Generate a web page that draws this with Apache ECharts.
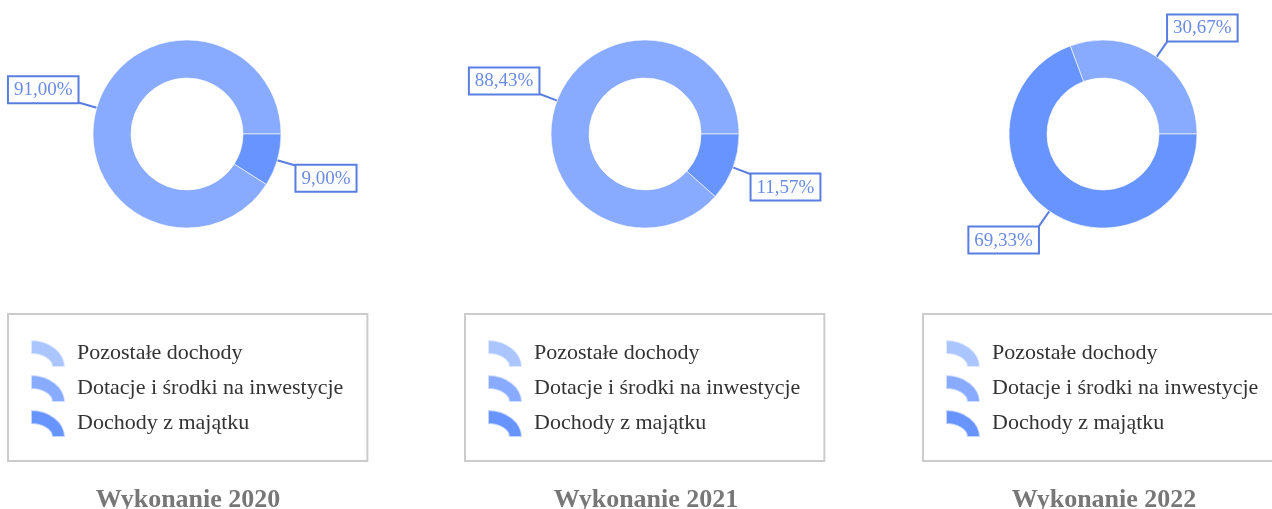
<!DOCTYPE html>
<html>
<head>
<meta charset="utf-8">
<script src="https://cdn.jsdelivr.net/npm/echarts@6/dist/echarts.min.js"></script>
<style>
html,body{margin:0;padding:0;background:#fff;}
#chart{width:1272px;height:509px;}
</style>
</head>
<body>
<div id="chart"></div>
<script>
// ---- data ----
const categories = ['Pozostałe dochody', 'Dotacje i środki na inwestycje', 'Dochody z majątku'];
const years = ['Wykonanie 2020', 'Wykonanie 2021', 'Wykonanie 2022'];
const values2020 = [0, 91.00, 9.00];
const values2021 = [0, 88.43, 11.57];
const values2022 = [0, 30.67, 69.33];
const seriesValues = [values2020, values2021, values2022];

// ---- layout / style ----
const palette = ['#abc5ff', '#88aaff', '#6894ff'];
const panelX = [187, 645, 1103];
const legendX = [8, 465, 923];
const serif = "'Liberation Serif', 'Times New Roman', serif";
const iconPath = 'path://M0,0 A34,27 0 0 1 34,27 L21,27 A21,13 0 0 0 0,14 Z';

const chart = echarts.init(document.getElementById('chart'), null, {renderer: 'canvas'});

const series = seriesValues.map((vals, i) => ({
  type: 'pie',
  center: [panelX[i], 134],
  radius: [56, 94],
  startAngle: 0,
  clockwise: false,
  minShowLabelAngle: 1,
  avoidLabelOverlap: false,
  animation: false,
  itemStyle: {borderColor: 'rgba(255,255,255,0.6)', borderWidth: 1},
  emphasis: {disabled: true},
  label: {
    show: true,
    position: 'outside',
    distanceToLabelLine: 0,
    formatter: p => p.value.toFixed(2).replace('.', ',') + '%',
    fontFamily: serif,
    fontSize: 19,
    lineHeight: 20,
    color: '#6a8be4',
    backgroundColor: '#fff',
    borderColor: '#5a7ee0',
    borderWidth: 2,
    padding: [3, 5, 2, 5]
  },
  labelLine: {show: true, length: 20, length2: 0, smooth: false,
    lineStyle: {color: '#5a7ee0', width: 2}},
  labelLayout: function (p) {
    const pts = p.labelLinePoints;
    if (!pts) return {};
    const up = pts[2][1] < pts[0][1];
    return {
      x: pts[2][0],
      y: pts[2][1],
      align: p.align,
      verticalAlign: up ? 'bottom' : 'top',
      labelLinePoints: pts
    };
  },
  data: categories.map((c, k) => ({name: c, value: vals[k]}))
}));

const legends = legendX.map(x => ({
  orient: 'vertical',
  left: x,
  top: 314,
  data: categories,
  icon: iconPath,
  itemWidth: 34,
  itemHeight: 27,
  itemGap: 6,
  symbolKeepAspect: false,
  selectedMode: false,
  padding: [25, 24, 23, 22],
  borderColor: '#cccccc',
  borderWidth: 2,
  textStyle: {fontFamily: serif, fontSize: 22, color: '#333333', padding: [0, 0, 0, 7]}
}));

const titles = years.map((t, i) => ({
  text: t,
  left: panelX[i] + 1,
  top: 487,
  textAlign: 'center',
  padding: 0,
  textStyle: {fontFamily: serif, fontSize: 26, fontWeight: 'bold', color: '#777777'}
}));

chart.setOption({
  color: palette,
  backgroundColor: '#ffffff',
  title: titles,
  legend: legends,
  tooltip: {show: false},
  series: series
});
</script>
</body>
</html>
